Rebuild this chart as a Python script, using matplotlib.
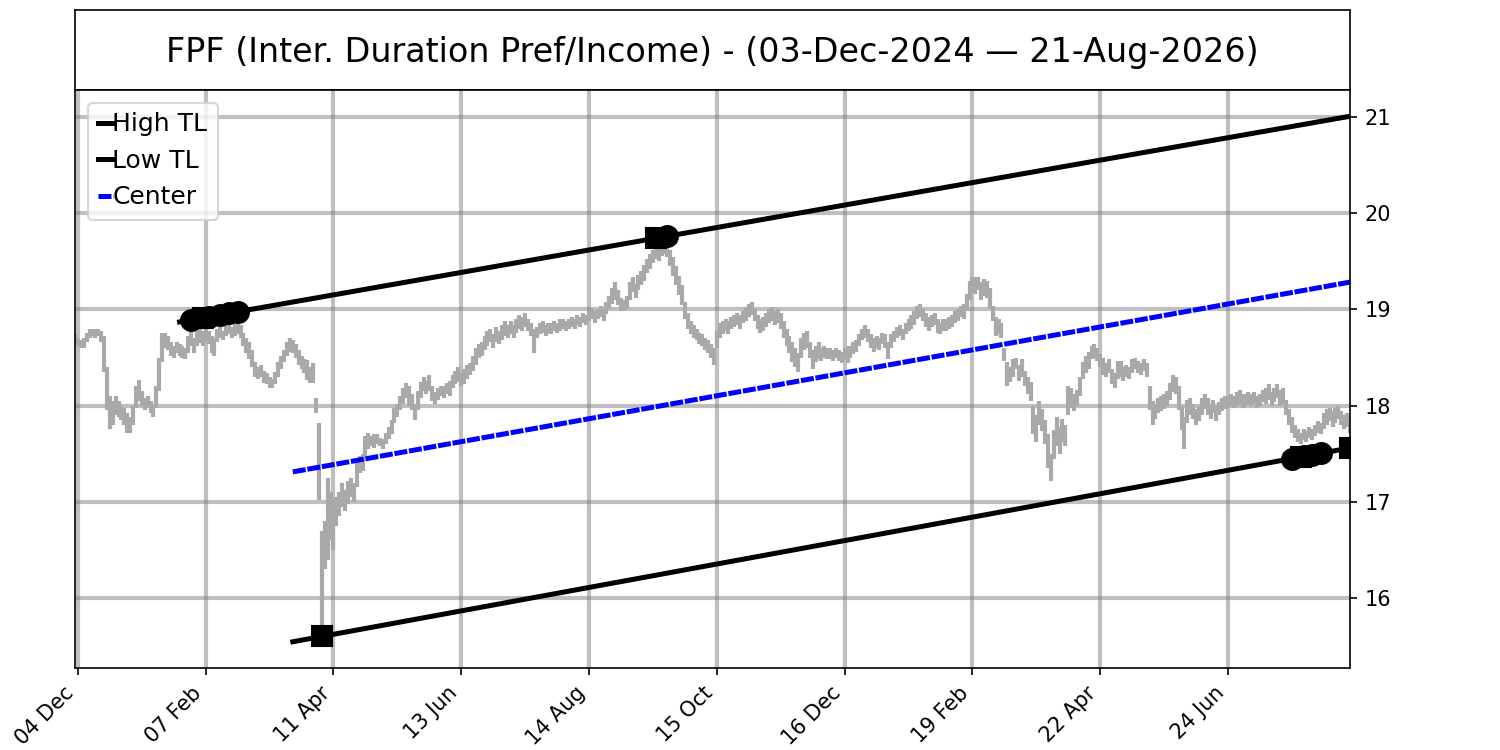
import numpy as np
import matplotlib
matplotlib.use("Agg")
import matplotlib.pyplot as plt

title = "FPF (Inter. Duration Pref/Income) - (03-Dec-2024 \u2014 21-Aug-2026)"

# daily bar lows / highs, one entry per trading day (index 0 = 03-Dec-2024)
bar_low = [
    18.64, 18.62, 18.60, 18.60, 18.66, 18.70, 18.72, 18.70, 18.72, 18.66,
    18.35, 17.95, 17.76, 17.80, 17.90, 17.88, 17.85, 17.80, 17.72, 17.72,
    17.80, 17.98, 18.05, 18.00, 17.95, 17.98, 17.92, 17.88, 17.98, 18.15,
    18.45, 18.60, 18.58, 18.52, 18.50, 18.55, 18.52, 18.50, 18.48, 18.55,
    18.62, 18.55, 18.62, 18.65, 18.62, 18.66, 18.64, 18.55, 18.52, 18.66,
    18.70, 18.68, 18.72, 18.74, 18.70, 18.72, 18.74, 18.70, 18.62, 18.55,
    18.48, 18.40, 18.30, 18.28, 18.30, 18.24, 18.22, 18.18, 18.18, 18.22,
    18.30, 18.38, 18.45, 18.52, 18.56, 18.55, 18.50, 18.42, 18.38, 18.34,
    18.27, 18.23, 18.23, 17.92, 17.02, 15.60, 16.30, 16.40, 16.60, 16.50,
    16.75, 16.85, 16.95, 16.90, 16.98, 17.05, 17.00, 17.15, 17.30, 17.32,
    17.48, 17.55, 17.58, 17.56, 17.60, 17.58, 17.55, 17.60, 17.65, 17.70,
    17.82, 17.88, 17.95, 18.02, 18.08, 18.00, 17.95, 17.85, 17.95, 18.08,
    18.15, 18.12, 18.15, 18.05, 18.02, 18.06, 18.10, 18.08, 18.12, 18.10,
    18.18, 18.22, 18.25, 18.20, 18.22, 18.28, 18.32, 18.36, 18.42, 18.50,
    18.52, 18.58, 18.62, 18.66, 18.60, 18.66, 18.64, 18.68, 18.72, 18.70,
    18.74, 18.70, 18.76, 18.80, 18.78, 18.82, 18.78, 18.72, 18.55, 18.70,
    18.74, 18.76, 18.72, 18.76, 18.74, 18.78, 18.76, 18.78, 18.80, 18.78,
    18.80, 18.82, 18.80, 18.84, 18.82, 18.86, 18.84, 18.88, 18.90, 18.86,
    18.90, 18.92, 18.88, 18.95, 19.00, 19.06, 19.10, 19.05, 18.98, 18.98,
    19.00, 19.10, 19.18, 19.12, 19.20, 19.25, 19.30, 19.38, 19.42, 19.48,
    19.52, 19.50, 19.56, 19.58, 19.55, 19.45, 19.35, 19.25, 19.15, 19.05,
    18.90, 18.80, 18.74, 18.70, 18.68, 18.64, 18.62, 18.58, 18.55, 18.50,
    18.42, 18.60, 18.70, 18.74, 18.78, 18.74, 18.80, 18.82, 18.84, 18.80,
    18.86, 18.88, 18.92, 18.94, 18.88, 18.80, 18.76, 18.78, 18.82, 18.86,
    18.88, 18.84, 18.86, 18.80, 18.70, 18.62, 18.55, 18.45, 18.40, 18.35,
    18.50, 18.58, 18.60, 18.50, 18.38, 18.45, 18.48, 18.46, 18.50, 18.48,
    18.48, 18.46, 18.50, 18.46, 18.44, 18.48, 18.44, 18.50, 18.54, 18.56,
    18.62, 18.68, 18.70, 18.66, 18.60, 18.56, 18.60, 18.58, 18.64, 18.60,
    18.48, 18.60, 18.66, 18.70, 18.72, 18.68, 18.74, 18.78, 18.80, 18.84,
    18.90, 18.92, 18.88, 18.82, 18.78, 18.82, 18.84, 18.76, 18.74, 18.78,
    18.78, 18.80, 18.82, 18.86, 18.88, 18.92, 18.90, 18.98, 19.10, 19.18,
    19.16, 19.20, 19.10, 19.14, 19.12, 19.00, 18.88, 18.72, 18.74, 18.70,
    18.46, 18.20, 18.25, 18.30, 18.38, 18.26, 18.30, 18.20, 18.12, 18.05,
    17.70, 17.62, 17.80, 17.74, 17.60, 17.35, 17.22, 17.45, 17.58, 17.50,
    17.62, 17.58, 17.90, 17.98, 17.94, 18.00, 18.10, 18.28, 18.34, 18.38,
    18.48, 18.50, 18.46, 18.40, 18.32, 18.30, 18.34, 18.22, 18.18, 18.28,
    18.30, 18.26, 18.30, 18.28, 18.34, 18.38, 18.34, 18.32, 18.36, 18.30,
    17.95, 17.80, 17.86, 17.92, 17.94, 17.96, 18.00, 18.06, 18.14, 18.12,
    17.95, 17.75, 17.55, 17.82, 17.90, 17.86, 17.80, 17.84, 17.90, 17.96,
    17.90, 17.86, 17.92, 17.84, 17.90, 17.94, 17.96, 17.98, 18.00, 17.98,
    18.00, 18.02, 17.98, 18.00, 18.02, 18.00, 18.02, 17.98, 18.00, 18.04,
    18.02, 18.06, 18.00, 18.04, 18.08, 18.00, 18.02, 17.90, 17.80, 17.72,
    17.66, 17.62, 17.60, 17.64, 17.62, 17.66, 17.64, 17.68, 17.72, 17.70,
    17.76, 17.80, 17.84, 17.78, 17.82, 17.86, 17.80, 17.76, 17.78, 17.72,
]
bar_high = [
    18.74, 18.70, 18.68, 18.70, 18.76, 18.80, 18.80, 18.80, 18.80, 18.78,
    18.72, 18.40, 18.10, 18.05, 18.10, 18.05, 18.00, 17.98, 17.92, 17.88,
    18.00, 18.20, 18.27, 18.15, 18.08, 18.10, 18.05, 18.00, 18.20, 18.50,
    18.75, 18.76, 18.72, 18.66, 18.62, 18.66, 18.64, 18.62, 18.60, 18.72,
    18.78, 18.70, 18.78, 18.80, 18.78, 18.82, 18.78, 18.72, 18.70, 18.80,
    18.82, 18.78, 18.84, 18.86, 18.82, 18.85, 18.86, 18.84, 18.76, 18.70,
    18.66, 18.58, 18.45, 18.40, 18.42, 18.36, 18.34, 18.30, 18.28, 18.35,
    18.45, 18.52, 18.58, 18.66, 18.70, 18.68, 18.64, 18.58, 18.52, 18.48,
    18.47, 18.40, 18.44, 18.08, 17.82, 16.70, 16.80, 17.25, 17.10, 17.00,
    17.05, 17.10, 17.20, 17.12, 17.22, 17.25, 17.20, 17.40, 17.48, 17.50,
    17.68, 17.72, 17.68, 17.70, 17.70, 17.66, 17.65, 17.72, 17.78, 17.85,
    17.98, 18.02, 18.10, 18.18, 18.24, 18.20, 18.12, 18.02, 18.15, 18.25,
    18.30, 18.26, 18.32, 18.20, 18.14, 18.18, 18.20, 18.20, 18.24, 18.26,
    18.32, 18.36, 18.40, 18.34, 18.38, 18.42, 18.44, 18.52, 18.60, 18.64,
    18.66, 18.72, 18.78, 18.80, 18.74, 18.82, 18.78, 18.84, 18.88, 18.84,
    18.88, 18.84, 18.90, 18.94, 18.92, 18.96, 18.90, 18.86, 18.80, 18.82,
    18.86, 18.88, 18.84, 18.86, 18.86, 18.88, 18.86, 18.90, 18.90, 18.88,
    18.90, 18.92, 18.90, 18.94, 18.92, 18.96, 18.94, 18.98, 19.00, 18.98,
    19.00, 19.04, 19.00, 19.08, 19.14, 19.22, 19.28, 19.20, 19.12, 19.10,
    19.14, 19.28, 19.34, 19.26, 19.36, 19.40, 19.46, 19.52, 19.58, 19.62,
    19.66, 19.64, 19.70, 19.72, 19.68, 19.62, 19.55, 19.45, 19.35, 19.25,
    19.08, 18.96, 18.88, 18.84, 18.80, 18.76, 18.74, 18.70, 18.68, 18.64,
    18.60, 18.78, 18.86, 18.88, 18.90, 18.88, 18.92, 18.94, 18.96, 18.94,
    18.98, 19.02, 19.06, 19.08, 19.00, 18.94, 18.90, 18.92, 18.96, 19.00,
    19.02, 18.98, 19.00, 18.96, 18.88, 18.80, 18.72, 18.66, 18.60, 18.55,
    18.70, 18.76, 18.78, 18.66, 18.58, 18.62, 18.66, 18.60, 18.62, 18.60,
    18.60, 18.58, 18.60, 18.58, 18.56, 18.60, 18.62, 18.62, 18.66, 18.68,
    18.74, 18.80, 18.84, 18.80, 18.74, 18.70, 18.72, 18.70, 18.76, 18.74,
    18.66, 18.74, 18.78, 18.82, 18.84, 18.80, 18.86, 18.90, 18.94, 18.98,
    19.04, 19.06, 19.00, 18.96, 18.92, 18.94, 18.96, 18.90, 18.86, 18.90,
    18.90, 18.92, 18.94, 18.98, 19.00, 19.04, 19.06, 19.16, 19.30, 19.34,
    19.34, 19.34, 19.28, 19.32, 19.30, 19.22, 19.04, 18.92, 18.90, 18.86,
    18.60, 18.45, 18.40, 18.48, 18.50, 18.42, 18.48, 18.36, 18.30, 18.25,
    18.00, 17.90, 18.05, 17.96, 17.85, 17.70, 17.50, 17.75, 17.88, 17.78,
    17.86, 17.80, 18.20, 18.18, 18.12, 18.16, 18.30, 18.45, 18.52, 18.56,
    18.62, 18.64, 18.60, 18.54, 18.50, 18.44, 18.48, 18.38, 18.34, 18.46,
    18.46, 18.40, 18.42, 18.40, 18.48, 18.50, 18.46, 18.44, 18.48, 18.44,
    18.20, 18.05, 18.02, 18.08, 18.10, 18.12, 18.15, 18.24, 18.32, 18.30,
    18.20, 18.00, 17.88, 18.06, 18.08, 18.02, 17.96, 18.00, 18.08, 18.12,
    18.08, 18.02, 18.06, 18.00, 18.04, 18.08, 18.10, 18.10, 18.12, 18.10,
    18.14, 18.16, 18.12, 18.12, 18.14, 18.12, 18.14, 18.10, 18.12, 18.16,
    18.18, 18.22, 18.14, 18.18, 18.22, 18.16, 18.18, 18.06, 17.96, 17.88,
    17.80, 17.76, 17.72, 17.76, 17.74, 17.78, 17.76, 17.80, 17.84, 17.82,
    17.92, 17.96, 17.98, 17.94, 17.98, 18.00, 17.94, 17.90, 17.92, 17.88,
]

tick_labels = ["04 Dec", "07 Feb", "11 Apr", "13 Jun", "14 Aug",
               "15 Oct", "16 Dec", "19 Feb", "22 Apr", "24 Jun"]
tick_first, tick_step = 1, 44

# trend lines: (start index, start value), (end index, end value)
high_tl = [(36, 18.87), (439, 21.008)]
low_tl = [(75, 15.545), (439, 17.56)]

high_circles = [40, 46, 50, 53, 56, 204]
high_squares = [44, 200]
low_circles = [419, 423, 426, 429]
low_squares = [85, 422, 439]


def line_at(tl, idx):
    (x0, y0), (x1, y1) = tl
    idx = np.asarray(idx, dtype=float)
    return y0 + (y1 - y0) * (idx - x0) / (x1 - x0)


n = len(bar_low)
idx = np.arange(n)

fig = plt.figure(figsize=(10, 5), dpi=150)
ax_t = fig.add_axes([0.05, 0.88, 0.85, 0.1067])
ax_t.set_xticks([])
ax_t.set_yticks([])
ax_t.text(0.5, 0.47, title, ha="center", va="center", fontsize=16,
          transform=ax_t.transAxes)

ax = fig.add_axes([0.05, 0.1093, 0.85, 0.7707])
ax.set_axisbelow(True)
ax.grid(True, color="gray", alpha=0.5, linewidth=2)

ax.vlines(idx, bar_low, bar_high, color="darkgray", linewidth=2.0)

hx = np.arange(high_tl[0][0], high_tl[1][0] + 1)
lx = np.arange(low_tl[0][0], low_tl[1][0] + 1)
ax.plot(hx, line_at(high_tl, hx), color="black", lw=2.4, label="High TL")
ax.plot(lx, line_at(low_tl, lx), color="black", lw=2.4, label="Low TL")
ax.plot(lx, (line_at(high_tl, lx) + line_at(low_tl, lx)) / 2, color="blue",
        lw=2.4, dashes=(2.6, 0.35), label="Center")

ax.plot(high_circles, line_at(high_tl, high_circles), "o", color="black", ms=10)
ax.plot(high_squares, line_at(high_tl, high_squares), "s", color="black", ms=10)
ax.plot(low_circles, line_at(low_tl, low_circles), "o", color="black", ms=10)
ax.plot(low_squares, line_at(low_tl, low_squares), "s", color="black", ms=10)

ax.set_xlim(0, n - 1)
ax.set_ylim(15.272, 21.281)
ticks = [tick_first + tick_step * k for k in range(len(tick_labels))]
ax.set_xticks(ticks)
ax.set_xticklabels(tick_labels, rotation=45, ha="right", fontsize=10)
ax.yaxis.tick_right()
ax.tick_params(axis="y", labelsize=10)

ax.legend(loc="upper left", fontsize=12, handlelength=0.6, handletextpad=0.0)

fig.savefig("out.png", dpi=150)
